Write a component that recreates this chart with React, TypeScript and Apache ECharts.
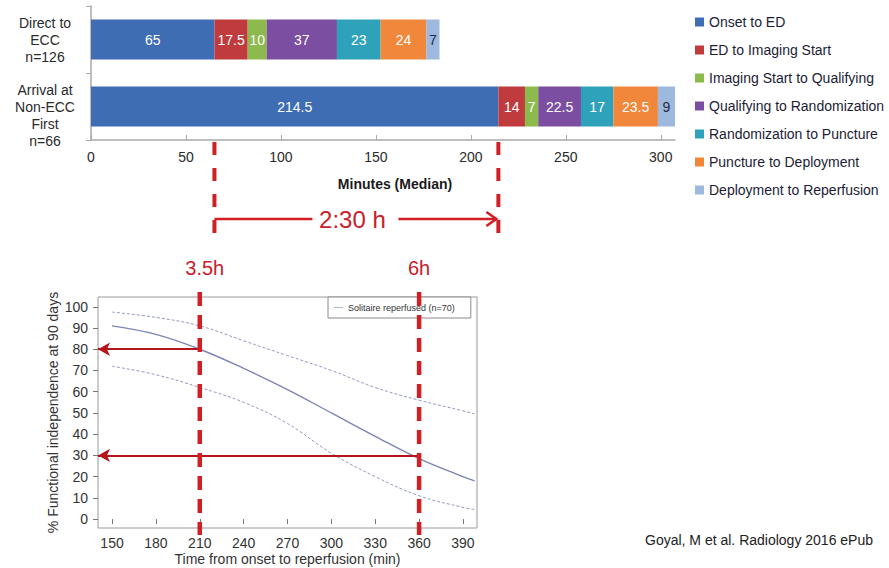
import React, { useEffect, useRef } from "react";
import * as echarts from "echarts";

// ---- Top chart: stacked horizontal bars (minutes, median) ----
const groups = ["Direct to\nECC\nn=126", "Arrival at\nNon-ECC\nFirst\nn=66"];
const stageNames = [
  "Onset to ED",
  "ED to Imaging Start",
  "Imaging Start to Qualifying",
  "Qualifying to Randomization",
  "Randomization to Puncture",
  "Puncture to Deployment",
  "Deployment to Reperfusion",
];
const onsetToED = [65, 214.5];
const edToImaging = [17.5, 14];
const imagingToQualifying = [10, 7];
const qualifyingToRandomization = [37, 22.5];
const randomizationToPuncture = [23, 17];
const punctureToDeployment = [24, 23.5];
const deploymentToReperfusion = [7, 9];
const stageValues = [
  onsetToED,
  edToImaging,
  imagingToQualifying,
  qualifyingToRandomization,
  randomizationToPuncture,
  punctureToDeployment,
  deploymentToReperfusion,
];
const stageColors = ["#3f6db4", "#bf3b3d", "#8cba4c", "#7b4ea1", "#2fa2bb", "#f0873a", "#9fb8de"];
const minuteTicks = [0, 50, 100, 150, 200, 250, 300];

// ---- Bottom chart: functional independence vs time ----
const timeMin = [150, 180, 210, 240, 270, 300, 330, 360, 390, 398];
const fiMedian = [91, 87, 80, 71, 61, 50, 39, 28.5, 20, 18];
const fiUpper = [97.5, 95, 91, 84, 77, 70, 62, 56, 51, 49.5];
const fiLower = [72, 68, 62, 55, 45, 31, 20, 11, 5.5, 4.5];
const timeTicks = [150, 180, 210, 240, 270, 300, 330, 360, 390];
const pctTicks = [0, 10, 20, 30, 40, 50, 60, 70, 80, 90, 100];
const cutoffTimes = [210, 360];
const cutoffPct = [80, 30];
const cutoffLabels = ["3.5h", "6h"];
const delayLabel = "2:30 h";
const citation = "Goyal, M et al. Radiology 2016 ePub";
const curveName = "Solitaire reperfused (n=70)";

const FONT = "'Liberation Sans', Arial, sans-serif";
const RED = "#d21f26";

export default function App() {
  const ref = useRef<HTMLDivElement>(null);

  useEffect(() => {
    if (!ref.current) return;
    const chart = echarts.init(ref.current, undefined, { renderer: "svg" });

    const barSeries = stageNames.map((name, i) => ({
      name,
      type: "bar",
      stack: "total",
      xAxisIndex: 0,
      yAxisIndex: 0,
      barWidth: 40,
      itemStyle: { color: stageColors[i] },
      label: {
        show: true,
        position: "inside",
        color: i === 6 ? "#1d2a48" : "#ffffff",
        fontSize: 14,
        fontFamily: FONT,
      },
      data: stageValues[i],
    }));

    const pair = (ys: number[]) => timeMin.map((t, i) => [t, ys[i]]);

    const option: any = {
      animation: false,
      backgroundColor: "#ffffff",
      textStyle: { fontFamily: FONT },
      legend: [
        {
          data: stageNames,
          orient: "vertical",
          left: 690,
          top: 10,
          itemWidth: 9,
          itemHeight: 9,
          itemGap: 14,
          icon: "rect",
          textStyle: { fontSize: 14, lineHeight: 14, color: "#1c1c34", fontFamily: FONT },
        },
        {
          data: [{ name: curveName, icon: "path://M0,0 H20 V1.4 H0 Z" }],
          left: 328,
          top: 297,
          padding: [6, 16, 6, 6],
          itemWidth: 9,
          itemHeight: 1.4,
          itemGap: 4,
          borderColor: "#8a8a8a",
          borderWidth: 1,
          backgroundColor: "#ffffff",
          textStyle: { fontSize: 9, color: "#333", fontFamily: FONT },
        },
      ],
      grid: [
        { left: 91, top: 6, width: 584, height: 134 },
        {
          left: 98,
          top: 297,
          width: 379,
          height: 231,
          show: true,
          borderColor: "#9a9a9a",
          borderWidth: 1,
          backgroundColor: "transparent",
        },
      ],
      xAxis: [
        {
          type: "value",
          gridIndex: 0,
          min: 0,
          max: 307.5,
          axisLine: { show: true, lineStyle: { color: "#a9a9a9", width: 1.5 } },
          axisTick: {
            show: true,
            inside: true,
            length: 5,
            customValues: minuteTicks,
            lineStyle: { color: "#a9a9a9" },
          },
          axisLabel: { customValues: minuteTicks, fontSize: 14, color: "#2a2a2a", margin: 10 },
          splitLine: { show: false },
          name: "Minutes (Median)",
          nameLocation: "middle",
          nameGap: 37,
          nameTextStyle: { fontSize: 14, fontWeight: "bold", color: "#1a1a1a", padding: [0, 0, 0, 24] },
        },
        {
          type: "value",
          gridIndex: 1,
          min: 140.4,
          max: 399.6,
          axisLine: { show: false },
          axisTick: { show: true, length: 5, customValues: timeTicks, lineStyle: { color: "#777" } },
          axisLabel: { customValues: timeTicks, fontSize: 14, color: "#333", margin: 8 },
          splitLine: { show: false },
          name: "Time from onset to reperfusion (min)",
          nameLocation: "middle",
          nameGap: 24,
          nameTextStyle: { fontSize: 14, color: "#333" },
        },
      ],
      yAxis: [
        {
          type: "category",
          gridIndex: 0,
          data: groups,
          inverse: true,
          axisLine: { show: true, lineStyle: { color: "#a9a9a9", width: 1.5 } },
          axisTick: { show: true, length: 5, lineStyle: { color: "#a9a9a9" } },
          axisLabel: {
            interval: 0,
            hideOverlap: false,
            align: "center",
            margin: 46,
            fontSize: 14,
            lineHeight: 17,
            color: "#2a2a2a",
            formatter: (v: string, i: number) => (i === 1 ? "\n" + v : v),
          },
        },
        {
          type: "value",
          gridIndex: 1,
          min: -4.2,
          max: 104.6,
          axisLine: { show: false },
          axisTick: { show: true, length: 5, customValues: pctTicks, lineStyle: { color: "#777" } },
          axisLabel: { customValues: pctTicks, fontSize: 14, color: "#333", margin: 10 },
          splitLine: { show: false },
          name: "% Functional independence at 90 days",
          nameLocation: "middle",
          nameGap: 38,
          nameTextStyle: { fontSize: 14, color: "#333" },
        },
      ],
      series: [
        ...barSeries,
        {
          name: curveName,
          type: "line",
          xAxisIndex: 1,
          yAxisIndex: 1,
          smooth: 0.4,
          symbol: "none",
          lineStyle: { color: "#7d84b6", width: 1.4 },
          itemStyle: { color: "#7d84b6" },
          data: pair(fiMedian),
          markLine: {
            silent: true,
            symbol: ["none", "arrow"],
            symbolSize: [10, 12],
            label: { show: false },
            lineStyle: { color: "#b5141c", width: 2, type: "solid" },
            data: cutoffTimes.map((t, i) => [
              { coord: [t, cutoffPct[i]] },
              { coord: [140.4, cutoffPct[i]] },
            ]),
          },
        },
        {
          name: "upper",
          type: "line",
          xAxisIndex: 1,
          yAxisIndex: 1,
          smooth: 0.4,
          symbol: "none",
          lineStyle: { color: "#9299c4", width: 1, type: [3, 2] },
          data: pair(fiUpper),
        },
        {
          name: "lower",
          type: "line",
          xAxisIndex: 1,
          yAxisIndex: 1,
          smooth: 0.4,
          symbol: "none",
          lineStyle: { color: "#9299c4", width: 1, type: [3, 2] },
          data: pair(fiLower),
        },
      ],
    };

    chart.setOption(option);

    const xa = (v: number) => chart.convertToPixel({ xAxisIndex: 0 }, v) as number;
    const xb = (v: number) => chart.convertToPixel({ xAxisIndex: 1 }, v) as number;
    const xStart = xa(onsetToED[0]);
    const xEnd = xa(onsetToED[1]);
    const mid = (xStart + xEnd) / 2;
    const arrowY = 219;

    const graphic: any[] = [];
    [xStart, xEnd].forEach((x) =>
      graphic.push({
        type: "line",
        z: 100,
        shape: { x1: x, y1: 142, x2: x, y2: 241 },
        style: { stroke: RED, lineWidth: 4, lineDash: [13, 13] },
      })
    );
    graphic.push({
      type: "line",
      z: 100,
      shape: { x1: xStart, y1: arrowY, x2: mid - 44, y2: arrowY },
      style: { stroke: RED, lineWidth: 2.5 },
    });
    graphic.push({
      type: "line",
      z: 100,
      shape: { x1: mid + 42, y1: arrowY, x2: xEnd - 2, y2: arrowY },
      style: { stroke: RED, lineWidth: 2.5 },
    });
    graphic.push({
      type: "polyline",
      z: 100,
      shape: { points: [[xEnd - 12, arrowY - 7], [xEnd - 2, arrowY], [xEnd - 12, arrowY + 7]] },
      style: { stroke: RED, lineWidth: 2.5, fill: "none" },
    });
    graphic.push({
      type: "text",
      z: 100,
      x: mid - 4,
      y: arrowY,
      style: {
        text: delayLabel,
        fill: "#c8202a",
        font: `24px ${FONT}`,
        align: "center",
        verticalAlign: "middle",
      },
    });
    cutoffTimes.forEach((t, i) => {
      const x = xb(t);
      graphic.push({
        type: "line",
        z: 100,
        shape: { x1: x, y1: 292, x2: x, y2: 535 },
        style: { stroke: RED, lineWidth: 4.5, lineDash: [14, 9] },
      });
      graphic.push({
        type: "text",
        z: 100,
        x: x + (i === 0 ? 5 : 0),
        y: 268,
        style: {
          text: cutoffLabels[i],
          fill: "#c8202a",
          font: `20px ${FONT}`,
          align: "center",
          verticalAlign: "middle",
        },
      });
    });
    graphic.push({
      type: "text",
      z: 100,
      x: 645,
      y: 540,
      style: {
        text: citation,
        fill: "#222",
        font: `14px ${FONT}`,
        align: "left",
        verticalAlign: "middle",
      },
    });

    chart.setOption({ graphic });

    return () => chart.dispose();
  }, []);

  return (
    <div
      ref={ref}
      style={{ position: "fixed", left: 0, top: 0, width: 889, height: 568, background: "#fff" }}
    />
  );
}
